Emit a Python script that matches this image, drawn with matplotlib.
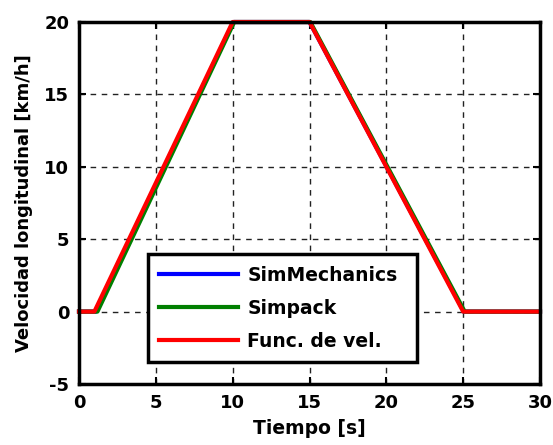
import matplotlib.pyplot as plt

# breakpoints of each velocity profile
t_simmech = [0, 1.1, 10.05, 15.0, 25.05, 30]
v_simmech = [0, 0, 20, 20, 0, 0]
t_simpack = [0, 1.2, 10.1, 15.05, 25.1, 30]
v_simpack = [0, 0, 20, 20, 0, 0]
t_func = [0, 1.0, 10.0, 15.0, 25.0, 30]
v_func = [0, 0, 20, 20, 0, 0]

xticks = [0, 5, 10, 15, 20, 25, 30]
yticks = [-5, 0, 5, 10, 15, 20]

plt.rcParams['font.family'] = ['DejaVu Sans']
plt.rcParams['font.weight'] = 'bold'
plt.rcParams['axes.unicode_minus'] = False

fig = plt.figure(figsize=(5.53, 4.45), dpi=100)
ax = fig.add_axes([79/553, 1 - 384/445, 461/553, 362/445])

ax.plot(t_simmech, v_simmech, color='#0000ff', lw=3, label='SimMechanics', clip_on=False)
ax.plot(t_simpack, v_simpack, color='#007f00', lw=3, label='Simpack', clip_on=False)
ax.plot(t_func, v_func, color='#ff0000', lw=3, label='Func. de vel.', clip_on=False)

ax.set_xlim(0, 30)
ax.set_ylim(-5, 20)
ax.set_xticks(xticks)
ax.set_yticks(yticks)
ax.grid(True, color='#222222', linestyle=(0, (4, 4)), lw=1)
ax.tick_params(direction='in', top=True, right=True, length=5, width=1.5,
               labelsize=13, pad=7)
for lab in ax.get_xticklabels() + ax.get_yticklabels():
    lab.set_fontweight('bold')
for sp in ax.spines.values():
    sp.set_linewidth(2.5)

ax.set_xlabel('Tiempo [s]', fontsize=13.5, fontweight='bold', labelpad=5)
ax.set_ylabel('Velocidad longitudinal [km/h]', fontsize=13, fontweight='bold', labelpad=8)

leg = ax.legend(loc='lower left', bbox_to_anchor=(69/461, (384-362)/362, 269/461, 108/362),
                mode='expand', fancybox=False, framealpha=1, edgecolor='black',
                prop={'size': 13.5, 'weight': 'bold'}, handlelength=4.2,
                borderaxespad=0, borderpad=0.6, labelspacing=0.75, handletextpad=0.5)
leg.get_frame().set_linewidth(2.5)

fig.savefig('out.png', dpi=100)
